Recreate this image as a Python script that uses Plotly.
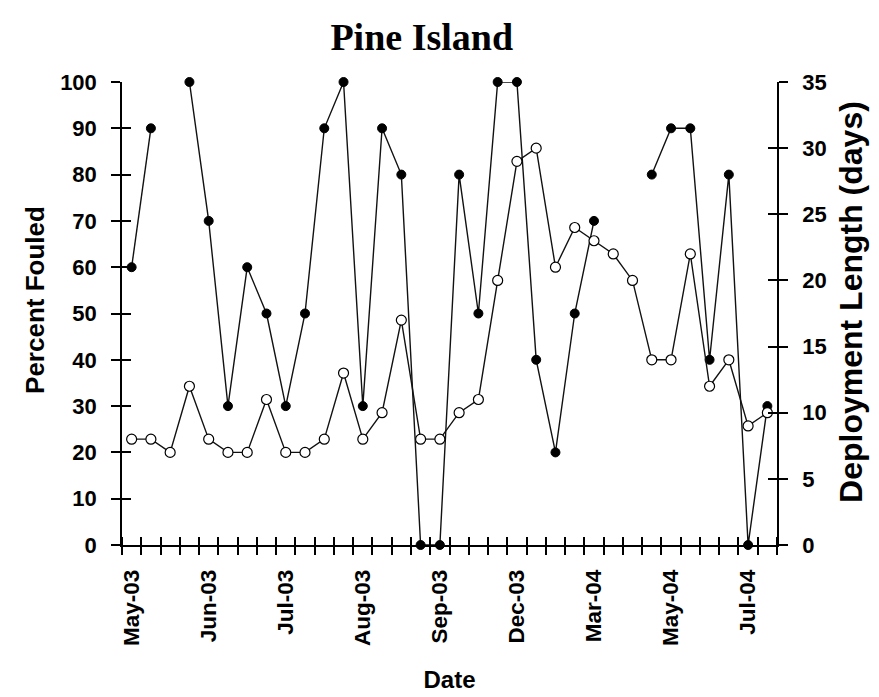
import plotly.graph_objects as go

# ---- data ----
sample_no = list(range(1, 35))
date_labels = ["May-03", "Jun-03", "Jul-03", "Aug-03", "Sep-03",
               "Dec-03", "Mar-04", "May-04", "Jul-04"]
label_samples = [1, 5, 9, 13, 17, 21, 25, 29, 33]
percent_fouled = [60, 90, None, 100, 70, 30, 60, 50, 30, 50, 90, 100, 30, 90, 80, 0, 0,
                  80, 50, 100, 100, 40, 20, 50, 70, None, None, 80, 90, 90, 40, 80, 0, 30]
deployment_days = [8, 8, 7, 12, 8, 7, 7, 11, 7, 7, 8, 13, 8, 10, 17, 8, 8,
                   10, 11, 20, 29, 30, 21, 24, 23, 22, 20, 14, 14, 22, 12, 14, 9, 10]

BOLD = dict(family="Arial, Liberation Sans, sans-serif", color="black", weight="bold")
xr = [0.5, 34.5]

fig = go.Figure()
fig.add_trace(go.Scatter(
    x=sample_no, y=percent_fouled, mode="lines+markers", connectgaps=False,
    line=dict(color="#111", width=1.4),
    marker=dict(symbol="circle", size=9, color="black", line=dict(color="black", width=1)),
    cliponaxis=False, showlegend=False, yaxis="y"))
fig.add_trace(go.Scatter(
    x=sample_no, y=deployment_days, mode="lines+markers",
    line=dict(color="#111", width=1.4),
    marker=dict(symbol="circle", size=10, color="white", line=dict(color="black", width=1.2)),
    cliponaxis=False, showlegend=False, yaxis="y2"))

fig.update_layout(
    width=871, height=689,
    margin=dict(l=114, r=102, t=74, b=152),
    paper_bgcolor="white", plot_bgcolor="white",
    title=dict(text="<b>Pine Island</b>", x=0.475, xanchor="center", y=0.958, yanchor="middle",
               yref="container",
               font=dict(family="Times New Roman, Liberation Serif, serif", size=38, color="black")),
    xaxis=dict(range=xr, tickmode="array", tickvals=label_samples, ticktext=date_labels,
               tickangle=-90, ticks="", showgrid=False, zeroline=False, automargin=False,
               showline=True, linecolor="black", linewidth=1.5,
               tickfont=dict(size=22.5, **BOLD), ticklabelstandoff=14,
               minor=dict(tick0=0.5, dtick=1, ticks="outside", ticklen=8,
                          tickcolor="black", tickwidth=1.5, showgrid=False),
               title=dict(text="Date", font=dict(size=24, **BOLD), standoff=26)),
    xaxis2=dict(range=xr, overlaying="x", anchor="y", side="bottom", showticklabels=False,
                ticks="", showgrid=False, zeroline=False, showline=False, automargin=False,
                minor=dict(tick0=0.5, dtick=1, ticks="inside", ticklen=8,
                           tickcolor="black", tickwidth=1.5, showgrid=False)),
    yaxis=dict(range=[0, 100], dtick=10, ticks="outside", ticklen=9, tickwidth=1.5,
               tickcolor="black", showgrid=False, zeroline=False, automargin=False,
               showline=True, linecolor="black", linewidth=1.5,
               tickfont=dict(size=22, **BOLD), ticklabelstandoff=10),
    yaxis2=dict(range=[0, 35], dtick=5, overlaying="y", side="right", anchor="x",
                ticks="outside", ticklen=9, tickwidth=1.5, tickcolor="black", automargin=False,
                showgrid=False, zeroline=False, showline=True, linecolor="black", linewidth=1.5,
                tickfont=dict(size=22, **BOLD), ticklabelstandoff=10),
    yaxis3=dict(range=[0, 100], dtick=10, overlaying="y", side="left", anchor="x",
                ticks="inside", ticklen=9, tickwidth=1.5, tickcolor="black", automargin=False,
                showticklabels=False, showgrid=False, zeroline=False, showline=False),
    yaxis4=dict(range=[0, 35], dtick=5, overlaying="y", side="right", anchor="x",
                ticks="inside", ticklen=9, tickwidth=1.5, tickcolor="black", automargin=False,
                showticklabels=False, showgrid=False, zeroline=False, showline=False),
    annotations=[
        dict(text="Percent Fouled", textangle=-90, xref="paper", yref="paper",
             x=-0.133, y=0.529, xanchor="center", yanchor="middle", showarrow=False,
             font=dict(size=26, **BOLD)),
        dict(text="Deployment Length (days)", textangle=-90, xref="paper", yref="paper",
             x=1.113, y=0.525, xanchor="center", yanchor="middle", showarrow=False,
             font=dict(size=32, **BOLD)),
    ],
)
# invisible traces to make the overlay tick axes render
fig.add_trace(go.Scatter(x=[None], y=[None], xaxis="x2", yaxis="y3", showlegend=False, hoverinfo="skip"))
fig.add_trace(go.Scatter(x=[None], y=[None], xaxis="x2", yaxis="y4", showlegend=False, hoverinfo="skip"))

fig.write_html("out.html")
